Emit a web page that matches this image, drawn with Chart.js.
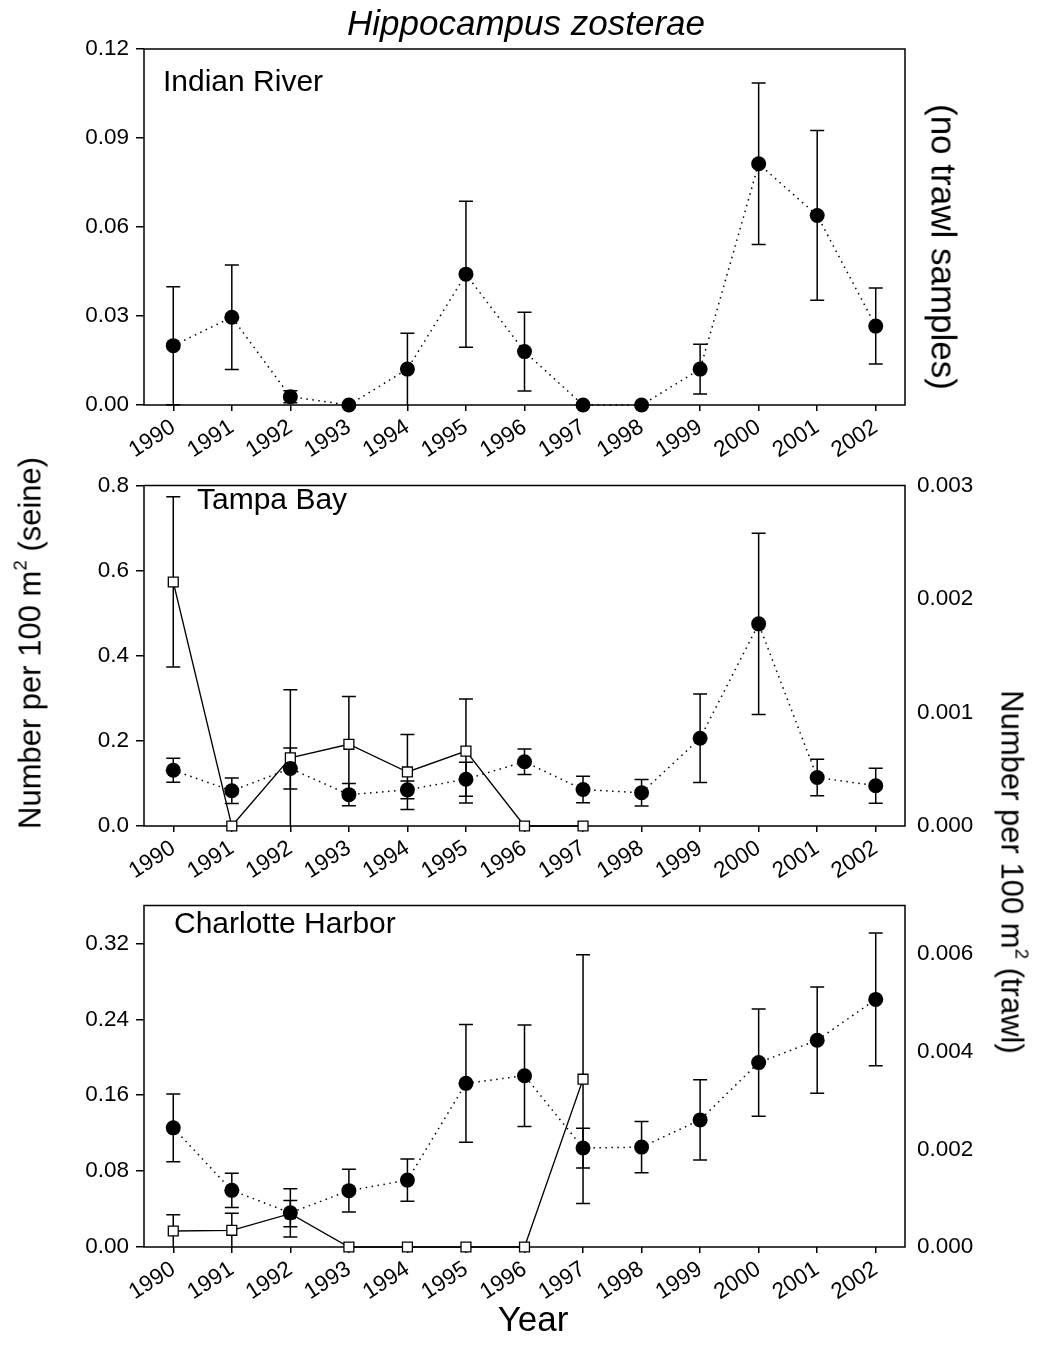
<!DOCTYPE html>
<html>
<head>
<meta charset="utf-8">
<script src="https://cdn.jsdelivr.net/npm/chart.js@4.4.1/dist/chart.umd.min.js"></script>
<style>
  body { margin: 0; background: #fff; font-family: "Liberation Sans", Arial, sans-serif; }
  #wrap { position: relative; width: 1037px; height: 1349px; overflow: hidden; }
  canvas { position: absolute; left: 0; }
  .txt { position: absolute; color: #000; white-space: nowrap; line-height: 1; }
  .rot { transform: translate(-50%, -50%) rotate(-90deg); }
  .rotR { transform: translate(-50%, -50%) rotate(90deg); }
  sup { font-size: 60%; vertical-align: 0.75em; line-height: 0; }
</style>
</head>
<body>
<div id="wrap">
  <canvas id="c1" width="1037" height="460" style="top:0px"></canvas>
  <canvas id="c2" width="1037" height="420" style="top:460px"></canvas>
  <canvas id="c3" width="1037" height="430" style="top:880px"></canvas>

  <div class="txt" style="left:526px;top:22px;transform:translate(-50%,-50%);font-size:35px;font-style:italic;">Hippocampus zosterae</div>
  <div class="txt" style="left:163px;top:66px;font-size:30px;">Indian River</div>
  <div class="txt" style="left:197px;top:484px;font-size:30px;">Tampa Bay</div>
  <div class="txt" style="left:174px;top:908px;font-size:30px;">Charlotte Harbor</div>
  <div class="txt rot" style="left:30px;top:643px;font-size:31px;">Number per 100 m<sup>2</sup> (seine)</div>
  <div class="txt rotR" style="left:1012px;top:872px;font-size:31px;">Number per 100 m<sup>2</sup> (trawl)</div>
  <div class="txt rotR" style="left:944px;top:247px;font-size:35px;">(no trawl samples)</div>
  <div class="txt" style="left:533px;top:1318px;transform:translate(-50%,-50%);font-size:35px;">Year</div>
</div>
<script>
// years on the x axis
var years = ['1990','1991','1992','1993','1994','1995','1996','1997','1998','1999','2000','2001','2002'];

// Indian River (seine only)
var irSeine   = [0.020, 0.0296, 0.0028, 0, 0.0121, 0.0441, 0.018, 0, 0, 0.0121, 0.0813, 0.0639, 0.0266];
var irSeineSE = [0.0199, 0.0176, 0.002, 0, 0.0121, 0.0246, 0.0133, 0, 0, 0.0084, 0.0272, 0.0286, 0.0128];

// Tampa Bay
var tbSeine   = [0.131, 0.0827, 0.135, 0.0737, 0.085, 0.110, 0.151, 0.0856, 0.078, 0.206, 0.475, 0.114, 0.0947];
var tbSeineSE = [0.028, 0.030, 0.048, 0.026, 0.021, 0.040, 0.030, 0.031, 0.031, 0.104, 0.213, 0.043, 0.041];
var tbTrawl   = [0.00215, 0, 0.0006, 0.00072, 0.000476, 0.00066, 0, 0, null, null, null, null, null];
var tbTrawlSE = [0.00075, 0, 0.0006, 0.00042, 0.00033, 0.000458, 0, 0, null, null, null, null, null];

// Charlotte Harbor
var chSeine   = [0.1256, 0.0597, 0.036, 0.0594, 0.0705, 0.1725, 0.1806, 0.1043, 0.1053, 0.134, 0.1944, 0.218, 0.261];
var chSeineSE = [0.0356, 0.018, 0.0255, 0.0226, 0.0222, 0.062, 0.0535, 0.021, 0.027, 0.0423, 0.0565, 0.056, 0.070];
var chTrawl   = [0.000328, 0.000342, 0.000683, 0, 0, 0, 0, 0.00344, null, null, null, null, null];
var chTrawlSE = [0.000335, 0.00035, 0.00027, 0, 0, 0, 0, 0.00255, null, null, null, null, null];

// tick values
var ticks1L = [0, 0.03, 0.06, 0.09, 0.12];
var ticks2L = [0, 0.2, 0.4, 0.6, 0.8];
var ticks2R = [0, 0.001, 0.002, 0.003];
var ticks3L = [0, 0.08, 0.16, 0.24, 0.32];
var ticks3R = [0, 0.002, 0.004, 0.006];

Chart.defaults.font.family = '"Liberation Sans", Arial, sans-serif';
Chart.defaults.color = '#000';

var panelPlugin = {
  id: 'panelPlugin',
  beforeDatasetsDraw: function(chart) {
    var ctx = chart.ctx, a = chart.chartArea;
    ctx.save();
    ctx.strokeStyle = '#000';
    ctx.lineWidth = 1.5;
    ctx.strokeRect(a.left, a.top, a.right - a.left, a.bottom - a.top);
    chart.data.datasets.forEach(function(ds) {
      if (!ds.err) return;
      var ys = chart.scales[ds.yAxisID || 'y'];
      var xs = chart.scales.x;
      ds.data.forEach(function(v, i) {
        var e = ds.err[i];
        if (v == null || !e) return;
        var x = xs.getPixelForValue(i);
        var top = ys.getPixelForValue(v + e);
        var lo = v - e;
        var bot = ys.getPixelForValue(Math.max(lo, ys.min));
        ctx.beginPath();
        ctx.moveTo(x, top); ctx.lineTo(x, bot);
        ctx.moveTo(x - 7, top); ctx.lineTo(x + 7, top);
        if (lo > ys.min + 1e-9) { ctx.moveTo(x - 7, bot); ctx.lineTo(x + 7, bot); }
        ctx.stroke();
      });
    });
    ctx.restore();
  }
};

function seineSet(data, err) {
  return {
    data: data, err: err, yAxisID: 'y',
    borderColor: '#000', borderWidth: 1.5, borderDash: [1.5, 4.5],
    pointRadius: 7.5, pointBackgroundColor: '#000', pointBorderColor: '#000',
    pointBorderWidth: 0, clip: false, tension: 0
  };
}
function trawlSet(data, err) {
  return {
    data: data, err: err, yAxisID: 'y1',
    borderColor: '#000', borderWidth: 1.3,
    pointStyle: 'rect', pointRadius: 7, pointBackgroundColor: '#fff',
    pointBorderColor: '#000', pointBorderWidth: 1.3, clip: false, tension: 0
  };
}

function leftAxis(max, vals, dec) {
  return {
    position: 'left', min: 0, max: max,
    afterFit: function(s) { s.width = 144; },
    afterBuildTicks: function(s) { s.ticks = vals.map(function(v) { return { value: v }; }); },
    ticks: { font: { size: 22.5 }, padding: 7, callback: function(v) { return Number(v).toFixed(dec); } },
    grid: { drawOnChartArea: false, drawTicks: true, tickLength: 8, color: '#000', lineWidth: 1.5 },
    border: { display: false }
  };
}
function rightAxis(max, vals) {
  return {
    position: 'right', min: 0, max: max,
    afterFit: function(s) { s.width = 132; },
    afterBuildTicks: function(s) { s.ticks = vals.map(function(v) { return { value: v }; }); },
    ticks: { font: { size: 22.5 }, padding: 12, callback: function(v) { return Number(v).toFixed(3); } },
    grid: { display: false, drawTicks: false },
    border: { display: false }
  };
}
function xAxis(h) {
  return {
    type: 'category', offset: true,
    afterFit: function(s) { s.height = h; },
    ticks: { font: { size: 22.5 }, minRotation: 33, maxRotation: 33, autoSkip: false, padding: 3 },
    grid: { drawOnChartArea: false, drawTicks: true, tickLength: 6, color: '#000', lineWidth: 1.5 },
    border: { display: false }
  };
}

function makeChart(id, datasets, scales, pad) {
  return new Chart(id, {
    type: 'line',
    data: { labels: years, datasets: datasets },
    options: {
      responsive: false, animation: false,
      layout: { padding: pad },
      plugins: { legend: { display: false }, tooltip: { enabled: false } },
      scales: scales
    },
    plugins: [panelPlugin]
  });
}

makeChart('c1',
  [seineSet(irSeine, irSeineSE)],
  { x: xAxis(55), y: leftAxis(0.12, ticks1L, 2) },
  { top: 49, left: 0, right: 132, bottom: 0 });

makeChart('c2',
  [seineSet(tbSeine, tbSeineSE), trawlSet(tbTrawl, tbTrawlSE)],
  { x: xAxis(54), y: leftAxis(0.8, ticks2L, 1), y1: rightAxis(0.003, ticks2R) },
  { top: 11, left: 0, right: 0, bottom: 0 });

makeChart('c3',
  [seineSet(chSeine, chSeineSE), trawlSet(chTrawl, chTrawlSE)],
  { x: xAxis(63), y: leftAxis(0.36, ticks3L, 2), y1: rightAxis(0.007, ticks3R) },
  { top: 13, left: 0, right: 0, bottom: 0 });
</script>
</body>
</html>
